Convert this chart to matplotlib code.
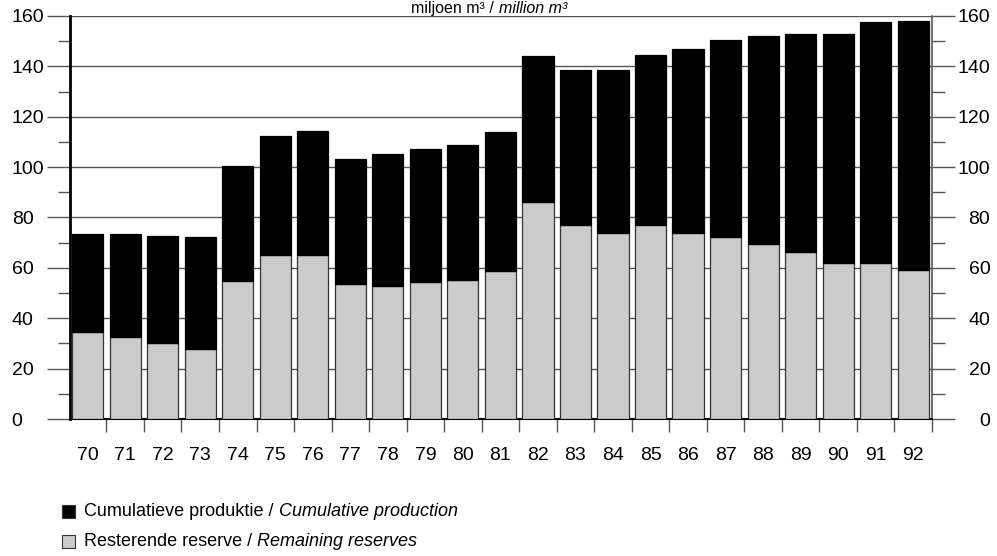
import matplotlib
matplotlib.use("Agg")
import matplotlib.pyplot as plt
import numpy as np
from matplotlib.patches import Rectangle
from matplotlib.ticker import MultipleLocator, FixedLocator

plt.rcParams['font.family'] = ['Liberation Sans Narrow', 'Liberation Sans', 'DejaVu Sans']

years = ['70', '71', '72', '73', '74', '75', '76', '77', '78', '79', '80', '81',
         '82', '83', '84', '85', '86', '87', '88', '89', '90', '91', '92']
reserve = [34.5, 32.5, 30.0, 27.7, 54.7, 65.0, 65.0, 53.5, 53.0, 54.3, 55.0, 58.6,
           86.0, 77.0, 73.8, 77.2, 73.8, 72.3, 69.3, 66.2, 62.0, 62.0, 59.2]
total = [73.5, 73.5, 72.8, 72.4, 100.5, 112.5, 114.3, 103.4, 105.3, 107.3, 108.6, 114.0,
         144.2, 138.5, 138.6, 144.6, 147.0, 150.6, 152.2, 153.0, 153.0, 157.6, 158.0]
production = [t - r for t, r in zip(total, reserve)]

yticks = [0, 20, 40, 60, 80, 100, 120, 140, 160]
title_nl = 'miljoen m³ / '
title_en = 'million m³'
leg_prod = ('Cumulatieve produktie / ', 'Cumulative production')
leg_res = ('Resterende reserve / ', 'Remaining reserves')

fig = plt.figure(figsize=(9.97, 5.56), dpi=100)
ax = fig.add_axes([70/997, 1-419/556, (932-70)/997, (419-16)/556])

x = np.arange(len(years))
grey = '#cbcbcb'
ax.bar(x, reserve, width=0.83, color=grey, edgecolor='#333333', linewidth=0.9, zorder=3)
ax.bar(x, production, bottom=reserve, width=0.83, color='black', edgecolor='black',
       linewidth=0.9, zorder=3)

ax.set_xlim(-0.47, 22.5)
ax.set_ylim(0, 160)
ax.set_yticks(yticks)
ax.yaxis.set_minor_locator(MultipleLocator(10))
ax.grid(axis='y', which='major', color='#555555', linewidth=1.0, zorder=1)
ax.set_axisbelow(True)

ax.set_xticks(x)
ax.set_xticklabels(years)
ax.xaxis.set_minor_locator(FixedLocator(np.arange(-0.5, 23, 1.0)))
ax.tick_params(axis='x', which='major', length=0, pad=20, labelsize=14)
ax.tick_params(axis='x', which='minor', length=9, width=1, color='#555555', direction='out')

ax.tick_params(axis='y', which='major', length=16.5, width=1, color='#555555',
               labelsize=14, left=True, right=True, labelleft=True, labelright=True, pad=25.5)
ax.tick_params(axis='y', which='minor', length=9, width=1, color='#555555',
               left=True, right=True)
for t in ax.yaxis.get_major_ticks():
    t.label1.set_horizontalalignment('left')
    t.label2.set_horizontalalignment('right')

ax.spines['top'].set_visible(False)
ax.spines['left'].set_linewidth(2.0)
ax.spines['left'].set_color('black')
ax.spines['right'].set_linewidth(1.2)
ax.spines['right'].set_color('#555555')
ax.spines['bottom'].set_linewidth(1.5)
ax.spines['bottom'].set_color('black')

# title at the top edge
ty = 1 - 1/556
fig.text(0.5, ty, title_nl, ha='right', va='top', fontsize=11.5)
fig.text(0.5, ty, title_en, ha='left', va='top', fontsize=11.5, style='italic')

# legend
for i, (lab, sty) in enumerate([(leg_prod, 'black'), (leg_res, grey)]):
    ypix = 511 + i * 30
    fig.patches.append(Rectangle((62/997, 1-(ypix+7)/556), 13/997, 13/556,
                                 transform=fig.transFigure, facecolor=sty,
                                 edgecolor='#333333', linewidth=0.8))
    tn = fig.text(84/997, 1-ypix/556, lab[0], ha='left', va='center', fontsize=13)
    fig.canvas.draw()
    bb = tn.get_window_extent()
    fig.text(bb.x1/997, 1-ypix/556, lab[1], ha='left', va='center', fontsize=13, style='italic')

fig.savefig('out.png', dpi=100)
